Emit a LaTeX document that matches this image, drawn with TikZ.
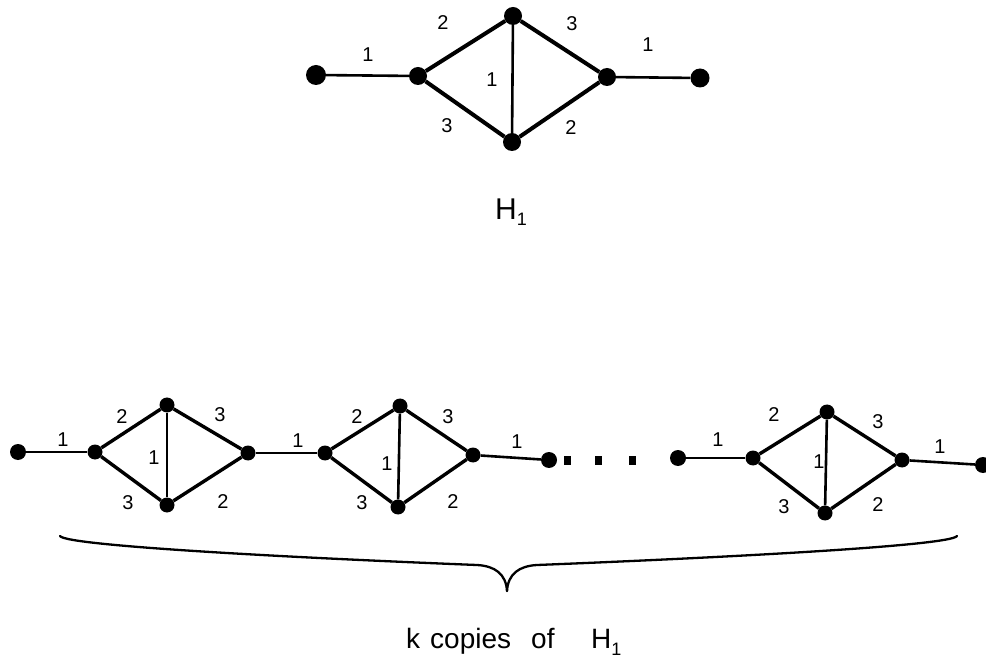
\documentclass[tikz,border=0pt]{standalone}
\usepackage{fontspec}
\setmainfont{Liberation Sans}
\begin{document}
\begin{tikzpicture}[x=1pt,y=-1pt,
  vtx/.style={circle,fill=black,inner sep=0pt,minimum size=16pt},
  bigv/.style={circle,fill=black,inner sep=0pt,minimum size=20pt},
  smv/.style={circle,fill=black,inner sep=0pt,minimum size=15pt},
  sq/.style={rectangle,fill=black,inner sep=0pt,minimum width=7pt,minimum height=9pt},
  lab/.style={inner sep=0pt,font=\fontsize{20}{22}\selectfont},
  word/.style={inner sep=0pt,anchor=base west,font=\fontsize{28}{30}\selectfont},
  thk/.style={line width=4pt},
  med/.style={line width=3.4pt},
  thn/.style={line width=2.6pt}]
\useasboundingbox (0,0) rectangle (986,668);
% ---------- top graph H1 ----------
\node[bigv] (TL) at (316,75) {};
\node[vtx,minimum size=18pt] (TA) at (418,76) {};
\node[vtx,minimum size=18pt] (TT) at (513,16) {};
\node[vtx,minimum size=18pt] (TB) at (512,142) {};
\node[vtx,minimum size=18pt] (TR) at (607,77) {};
\node[vtx,minimum size=19pt] (TE) at (700,78) {};
\draw[thn] (TL) -- (TA);
\draw[thk] (TA) -- (TT) -- (TR) -- (TB) -- (TA);
\draw[thn] (TT) -- (TB);
\draw[thn] (TR) -- (TE);
\node[lab] (tl1) at (368,55) {1};
\node[lab] (tl2) at (443,23) {2};
\node[lab] (tl3) at (572,24) {3};
\node[lab] (tl4) at (492,80) {1};
\node[lab] (tl5) at (447,126) {3};
\node[lab] (tl6) at (571,128) {2};
\node[lab] (tl7) at (648,45) {1};
\node[inner sep=0pt,font=\fontsize{30}{32}\selectfont] (H) at (511,212) {H\raisebox{-6pt}{\fontsize{18}{18}\selectfont 1}};
% ---------- bottom row ----------
\node[vtx] (E0) at (18,452) {};
\node[smv] (A1) at (95,452) {};
\node[smv] (T1) at (167,405) {};
\node[smv] (B1) at (167,505) {};
\node[smv] (R1) at (248,453) {};
\node[smv] (A2) at (325,453) {};
\node[smv] (T2) at (400,406) {};
\node[smv] (B2) at (398,507) {};
\node[smv] (R2) at (473,455) {};
\node[vtx] (E2) at (549,460) {};
\node[sq] (s1) at (567,460) {};
\node[sq] (s2) at (598,460) {};
\node[sq] (s3) at (632,460) {};
\node[vtx] (E3) at (678,458) {};
\node[smv] (A3) at (753,458) {};
\node[smv] (T3) at (827,412) {};
\node[smv] (B3) at (825,513) {};
\node[smv] (R3) at (902,460) {};
\node[vtx] (E4) at (983,465) {};
\draw[thn] (E0) -- (A1);
\draw[med] (A1) -- (T1) -- (R1) -- (B1) -- (A1);
\draw[thn] (T1) -- (B1);
\draw[thn] (R1) -- (A2);
\draw[med] (A2) -- (T2) -- (R2) -- (B2) -- (A2);
\draw[thn] (T2) -- (B2);
\draw[thn] (R2) -- (E2);
\draw[thn] (E3) -- (A3);
\draw[med] (A3) -- (T3) -- (R3) -- (B3) -- (A3);
\draw[thn] (T3) -- (B3);
\draw[thn] (R3) -- (E4);
% labels copy 1
\node[lab] (b1) at (63,440) {1};
\node[lab] (b2) at (122,417) {2};
\node[lab] (b3) at (220,415) {3};
\node[lab] (b4) at (154,458) {1};
\node[lab] (b5) at (128,503) {3};
\node[lab] (b6) at (223,502) {2};
\node[lab] (b7) at (298,441) {1};
% labels copy 2
\node[lab] (c2) at (357,417) {2};
\node[lab] (c3) at (448,417) {3};
\node[lab] (c4) at (387,464) {1};
\node[lab] (c5) at (362,503) {3};
\node[lab] (c6) at (453,502) {2};
\node[lab] (c7) at (517,442) {1};
% labels copy 3
\node[lab] (d1) at (718,440) {1};
\node[lab] (d2) at (774,415) {2};
\node[lab] (d3) at (878,422) {3};
\node[lab] (d4) at (819,462) {1};
\node[lab] (d5) at (784,507) {3};
\node[lab] (d6) at (878,505) {2};
\node[lab] (d7) at (940,447) {1};
% brace
\coordinate (bl) at (60,536);
\coordinate (br) at (957,536);
\coordinate (btip) at (507,591);
\draw[line width=2.3pt,line cap=round] (bl) .. controls (66,546) and (300,558) .. (477,565)
  .. controls (495,566) and (506,574) .. (btip);
\draw[line width=2.3pt,line cap=round] (br) .. controls (951,546) and (714,558) .. (537,565)
  .. controls (519,566) and (508,574) .. (btip);
\node[word] (w1) at (406,648) {k};
\node[word] (w2) at (430,648) {copies};
\node[word] (w3) at (531,648) {of};
\node[word] (w4) at (591,648) {H\raisebox{-7pt}{\fontsize{18}{18}\selectfont 1}};
\end{tikzpicture}
\end{document}
